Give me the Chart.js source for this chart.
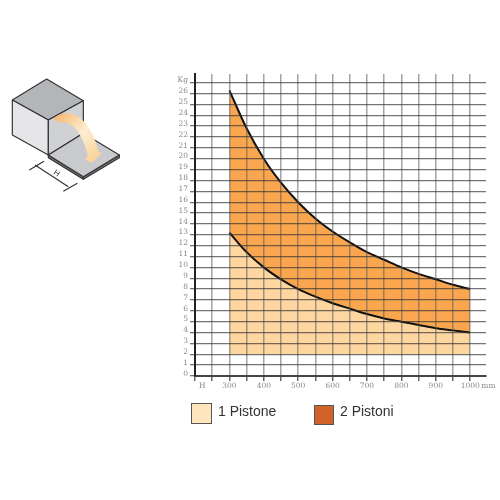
<!DOCTYPE html>
<html lang="en">
<head>
  <meta charset="UTF-8" />
  <title>Pistoni</title>
  <script src="https://cdn.jsdelivr.net/npm/chart.js"></script>
  <style>
    body { margin: 0; background: #fff; width: 500px; height: 500px; overflow: hidden; position: relative; }
    #chart { position: absolute; left: 0; top: 0; }
    #drawing { position: absolute; left: 0; top: 70px; }
    .swatch { position: absolute; box-sizing: border-box; border: 1px solid #555; }
    .name { position: absolute; font: 14px "Liberation Sans", Arial, sans-serif; color: #333; line-height: 20px; }
  </style>
</head>
<body>
  <canvas id="chart" width="500" height="500"></canvas>

  <!-- box with opening door, top left -->
  <svg id="drawing" width="130" height="130" viewBox="0 0 390 390">
    <defs>
      <linearGradient id="arrowFill" x1="0" y1="0" x2="1" y2="1">
        <stop offset="0" stop-color="#f6b36a" />
        <stop offset="0.5" stop-color="#fdeed2" />
        <stop offset="1" stop-color="#f8c98a" />
      </linearGradient>
    </defs>
    <g stroke="#333" stroke-width="3.5" stroke-linejoin="round">
      <polygon points="37,90 140,27 250,92 145,150" fill="#b4b5b8" />
      <polygon points="37,90 145,150 145,255 37,195" fill="#e6e6e8" />
      <polygon points="145,150 250,92 250,190 145,255" fill="#d0d1d4" />
      <polygon points="145,255 250,320 250,328 145,263" fill="#777" />
      <polygon points="250,320 358,255 358,263 250,328" fill="#777" />
      <polygon points="145,255 250,190 358,255 250,320" fill="#c9cacd" />
    </g>
    <path d="M160,146 C190,115 265,118 296,246 L306,250 L274,280 L254,266 L264,258 C248,190 215,150 178,158 Z" fill="url(#arrowFill)" />
    <g stroke="#333" stroke-width="3.5" fill="none">
      <line x1="105" y1="285" x2="205" y2="350" />
      <line x1="88" y1="300" x2="132" y2="274" />
      <line x1="190" y1="364" x2="232" y2="340" />
    </g>
    <text x="0" y="0" transform="translate(166,316) rotate(32) scale(3)" font-family="Liberation Sans, Arial, sans-serif" font-size="8" fill="#333" text-anchor="middle">H</text>
  </svg>

  <div class="swatch" style="left:191px;top:403px;width:21px;height:21px;background:#fde6bd"></div>
  <div class="name" id="name1" style="left:218px;top:401px"></div>
  <div class="swatch" style="left:314px;top:405px;width:20px;height:20px;background:#d2622a"></div>
  <div class="name" id="name2" style="left:340px;top:401px"></div>

  <script>
    const seriesNames = ['1 Pistone', '2 Pistoni'];
    const heights = [300, 350, 400, 450, 500, 550, 600, 650, 700, 750, 800, 850, 900, 950, 1000];
    const onePiston = [13.2, 11.4, 10, 8.9, 8, 7.3, 6.7, 6.2, 5.7, 5.3, 5, 4.7, 4.4, 4.2, 4];
    const twoPistons = [26.3, 22.8, 20, 17.8, 16, 14.5, 13.3, 12.3, 11.4, 10.7, 10, 9.4, 8.9, 8.4, 8];
    const floorKg = 2;
    const xTicks = [200, 250, 300, 350, 400, 450, 500, 550, 600, 650, 700, 750, 800, 850, 900, 950, 1000, 1046];
    const xLabels = ['\u00a0\u00a0\u00a0\u00a0\u00a0\u00a0H', '', '300', '', '400', '', '500', '', '600', '', '700', '', '800', '', '900', '', '1000', '\u00a0\u00a0mm'];
    const yTicks = [0, 1, 2, 3, 4, 5, 6, 7, 8, 9, 10, 11, 12, 13, 14, 15, 16, 17, 18, 19, 20, 21, 22, 23, 24, 25, 26, 27];
    const yLabels = ['0', '1', '2', '3', '4', '5', '6', '7', '8', '9', '10', '11', '12', '13', '14', '15', '16', '17', '18', '19', '20', '21', '22', '23', '24', '25', '26', 'Kg'];

    document.getElementById('name1').textContent = seriesNames[0];
    document.getElementById('name2').textContent = seriesNames[1];

    const toPoints = (vals) => vals.map((v, i) => ({ x: heights[i], y: v }));

    new Chart(document.getElementById('chart'), {
      type: 'line',
      data: {
        datasets: [
          {
            label: seriesNames[0],
            data: toPoints(onePiston),
            borderColor: '#111',
            borderWidth: 2,
            backgroundColor: '#fdd6a0',
            fill: { value: floorKg },
            pointRadius: 0,
            cubicInterpolationMode: 'monotone'
          },
          {
            label: seriesNames[1],
            data: toPoints(twoPistons),
            borderColor: '#111',
            borderWidth: 2,
            backgroundColor: '#f9a64f',
            fill: '-1',
            pointRadius: 0,
            cubicInterpolationMode: 'monotone'
          }
        ]
      },
      options: {
        responsive: false,
        animation: false,
        layout: { padding: { top: 74, right: 14, bottom: 0, left: 0 } },
        plugins: { legend: { display: false }, tooltip: { enabled: false } },
        scales: {
          x: {
            type: 'linear',
            min: 200,
            max: 1046,
            afterBuildTicks: (scale) => { scale.ticks = xTicks.map(v => ({ value: v })); },
            afterFit: (scale) => { scale.height = 124; },
            border: { color: '#444', width: 2, z: 2 },
            grid: {
              z: 1,
              lineWidth: 1.5,
              color: (c) => c.tick && c.tick.value > 1000 ? 'transparent' : 'rgba(90,90,90,0.55)',
              tickColor: (c) => c.tick && c.tick.value > 1000 ? 'transparent' : '#666',
              tickLength: 5
            },
            ticks: {
              autoSkip: false,
              maxRotation: 0,
              padding: 1,
              color: '#888',
              font: { family: '"DejaVu Serif", serif', size: 7.5 },
              callback: (v) => xLabels[xTicks.indexOf(v)]
            }
          },
          y: {
            min: 0,
            max: 27.8,
            afterBuildTicks: (scale) => { scale.ticks = yTicks.map(v => ({ value: v })); },
            afterFit: (scale) => { scale.width = 195; },
            border: { color: '#222', width: 2, z: 2 },
            grid: {
              z: 1,
              lineWidth: 1.3,
              color: 'rgba(50,50,50,0.68)',
              tickColor: '#777',
              tickLength: 5
            },
            ticks: {
              autoSkip: false,
              padding: 2,
              color: '#888',
              font: { family: '"DejaVu Serif", serif', size: 7.5, lineHeight: 0.6 },
              // empty second line lifts the label a little above its grid line
              callback: (v) => [yLabels[yTicks.indexOf(v)], '']
            }
          }
        }
      }
    });
  </script>
</body>
</html>
